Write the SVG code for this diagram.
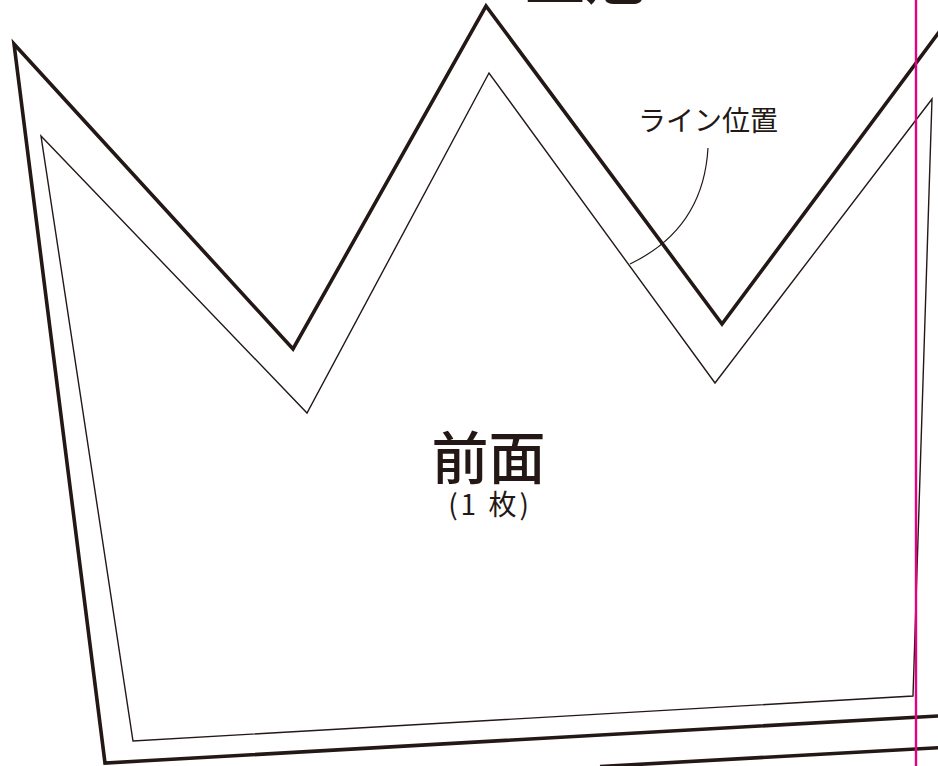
<svg xmlns="http://www.w3.org/2000/svg" width="938" height="766" viewBox="0 0 938 766">
<style>
.outer{fill:none;stroke:#231815;stroke-width:3.6;stroke-linejoin:miter;stroke-miterlimit:20}
.inner{fill:none;stroke:#231815;stroke-width:1.4;stroke-linejoin:miter;stroke-miterlimit:20}
.leader{fill:none;stroke:#231815;stroke-width:1.2}
.guide{fill:none;stroke:#e4007f;stroke-width:2.4}
.jp{font-family:"Noto Sans CJK JP","Noto Sans CJK SC",sans-serif;fill:#231815}
</style>
<rect width="938" height="766" fill="#ffffff"/>
<g id="title">
<text class="jp" x="525" y="-1" font-size="60" font-weight="bold">王冠</text>
</g>
<g id="front-piece">
<polygon class="outer" points="14,44 293,349 486,6 722,324 980,-23 990,713 105,763"/>
<polygon class="inner" points="41,136 307,413 489,73 715,383 932,99 913,696 133,741"/>
</g>
<g id="next-piece">
<line class="outer" x1="600" y1="766.5" x2="960" y2="746.5"/>
</g>
<g id="connectors">
<path class="leader" d="M708,148 C705,200 680,240 630,264"/>
</g>
<g id="line-label">
<text class="jp" x="638" y="131" font-size="28">ライン位置</text>
</g>
<g id="piece-label">
<text class="jp" x="488.5" y="479" font-size="57" font-weight="500" text-anchor="middle">前面</text>
<text class="jp" x="490" y="515" font-size="28" letter-spacing="3" text-anchor="middle">(1 枚)</text>
</g>
<g id="guide-line">
<line class="guide" x1="916" y1="0" x2="916" y2="766"/>
</g>
</svg>
